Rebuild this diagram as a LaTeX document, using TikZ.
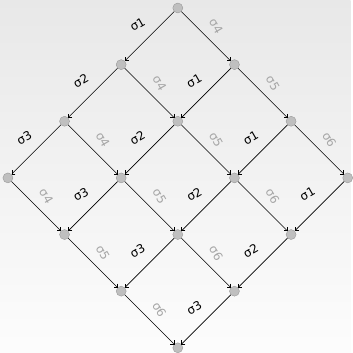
\documentclass[tikz,border=0pt]{standalone}
\usepackage{fontspec}
\setmainfont{DejaVu Sans}
\usetikzlibrary{arrows.meta}

\tikzset{
  dot/.style={circle, fill=black!25, draw=black!40, inner sep=0pt, minimum size=10bp},
  move/.style={draw, line width=0.6pt, -{Straight Barb[angle=90:3.5pt]}},
  lab/.style={font=\fontsize{12}{12}\selectfont},
}

\begin{document}
\begin{tikzpicture}
  \shade[top color=black!9, bottom color=black!1] (-178bp,-345bp) rectangle (173bp,8bp);
  \foreach \i in {0,...,3} {
    \foreach \j in {0,...,3} {
      \node[dot] (v\i\j) at ({2*(\j-\i)},{-2*(\i+\j)}) {};
    }
  }
  % moves down-left
  \foreach \i/\k in {0/1,1/2,2/3} {
    \foreach \j in {0,...,3} {
      \draw[move] (v\i\j) -- node[lab, xshift=-12bp, yshift=12bp, rotate=30] (l\i\j) {σ\k} (v\k\j);
    }
  }
  % moves down-right
  \foreach \j/\k in {0/1,1/2,2/3} {
    \pgfmathtruncatemacro\s{\j+4}
    \foreach \i in {0,...,3} {
      \draw[move] (v\i\j) -- node[lab, text=black!35, xshift=10bp, yshift=10bp, rotate=-60] (r\i\j) {σ\s} (v\i\k);
    }
  }
\end{tikzpicture}
\end{document}
